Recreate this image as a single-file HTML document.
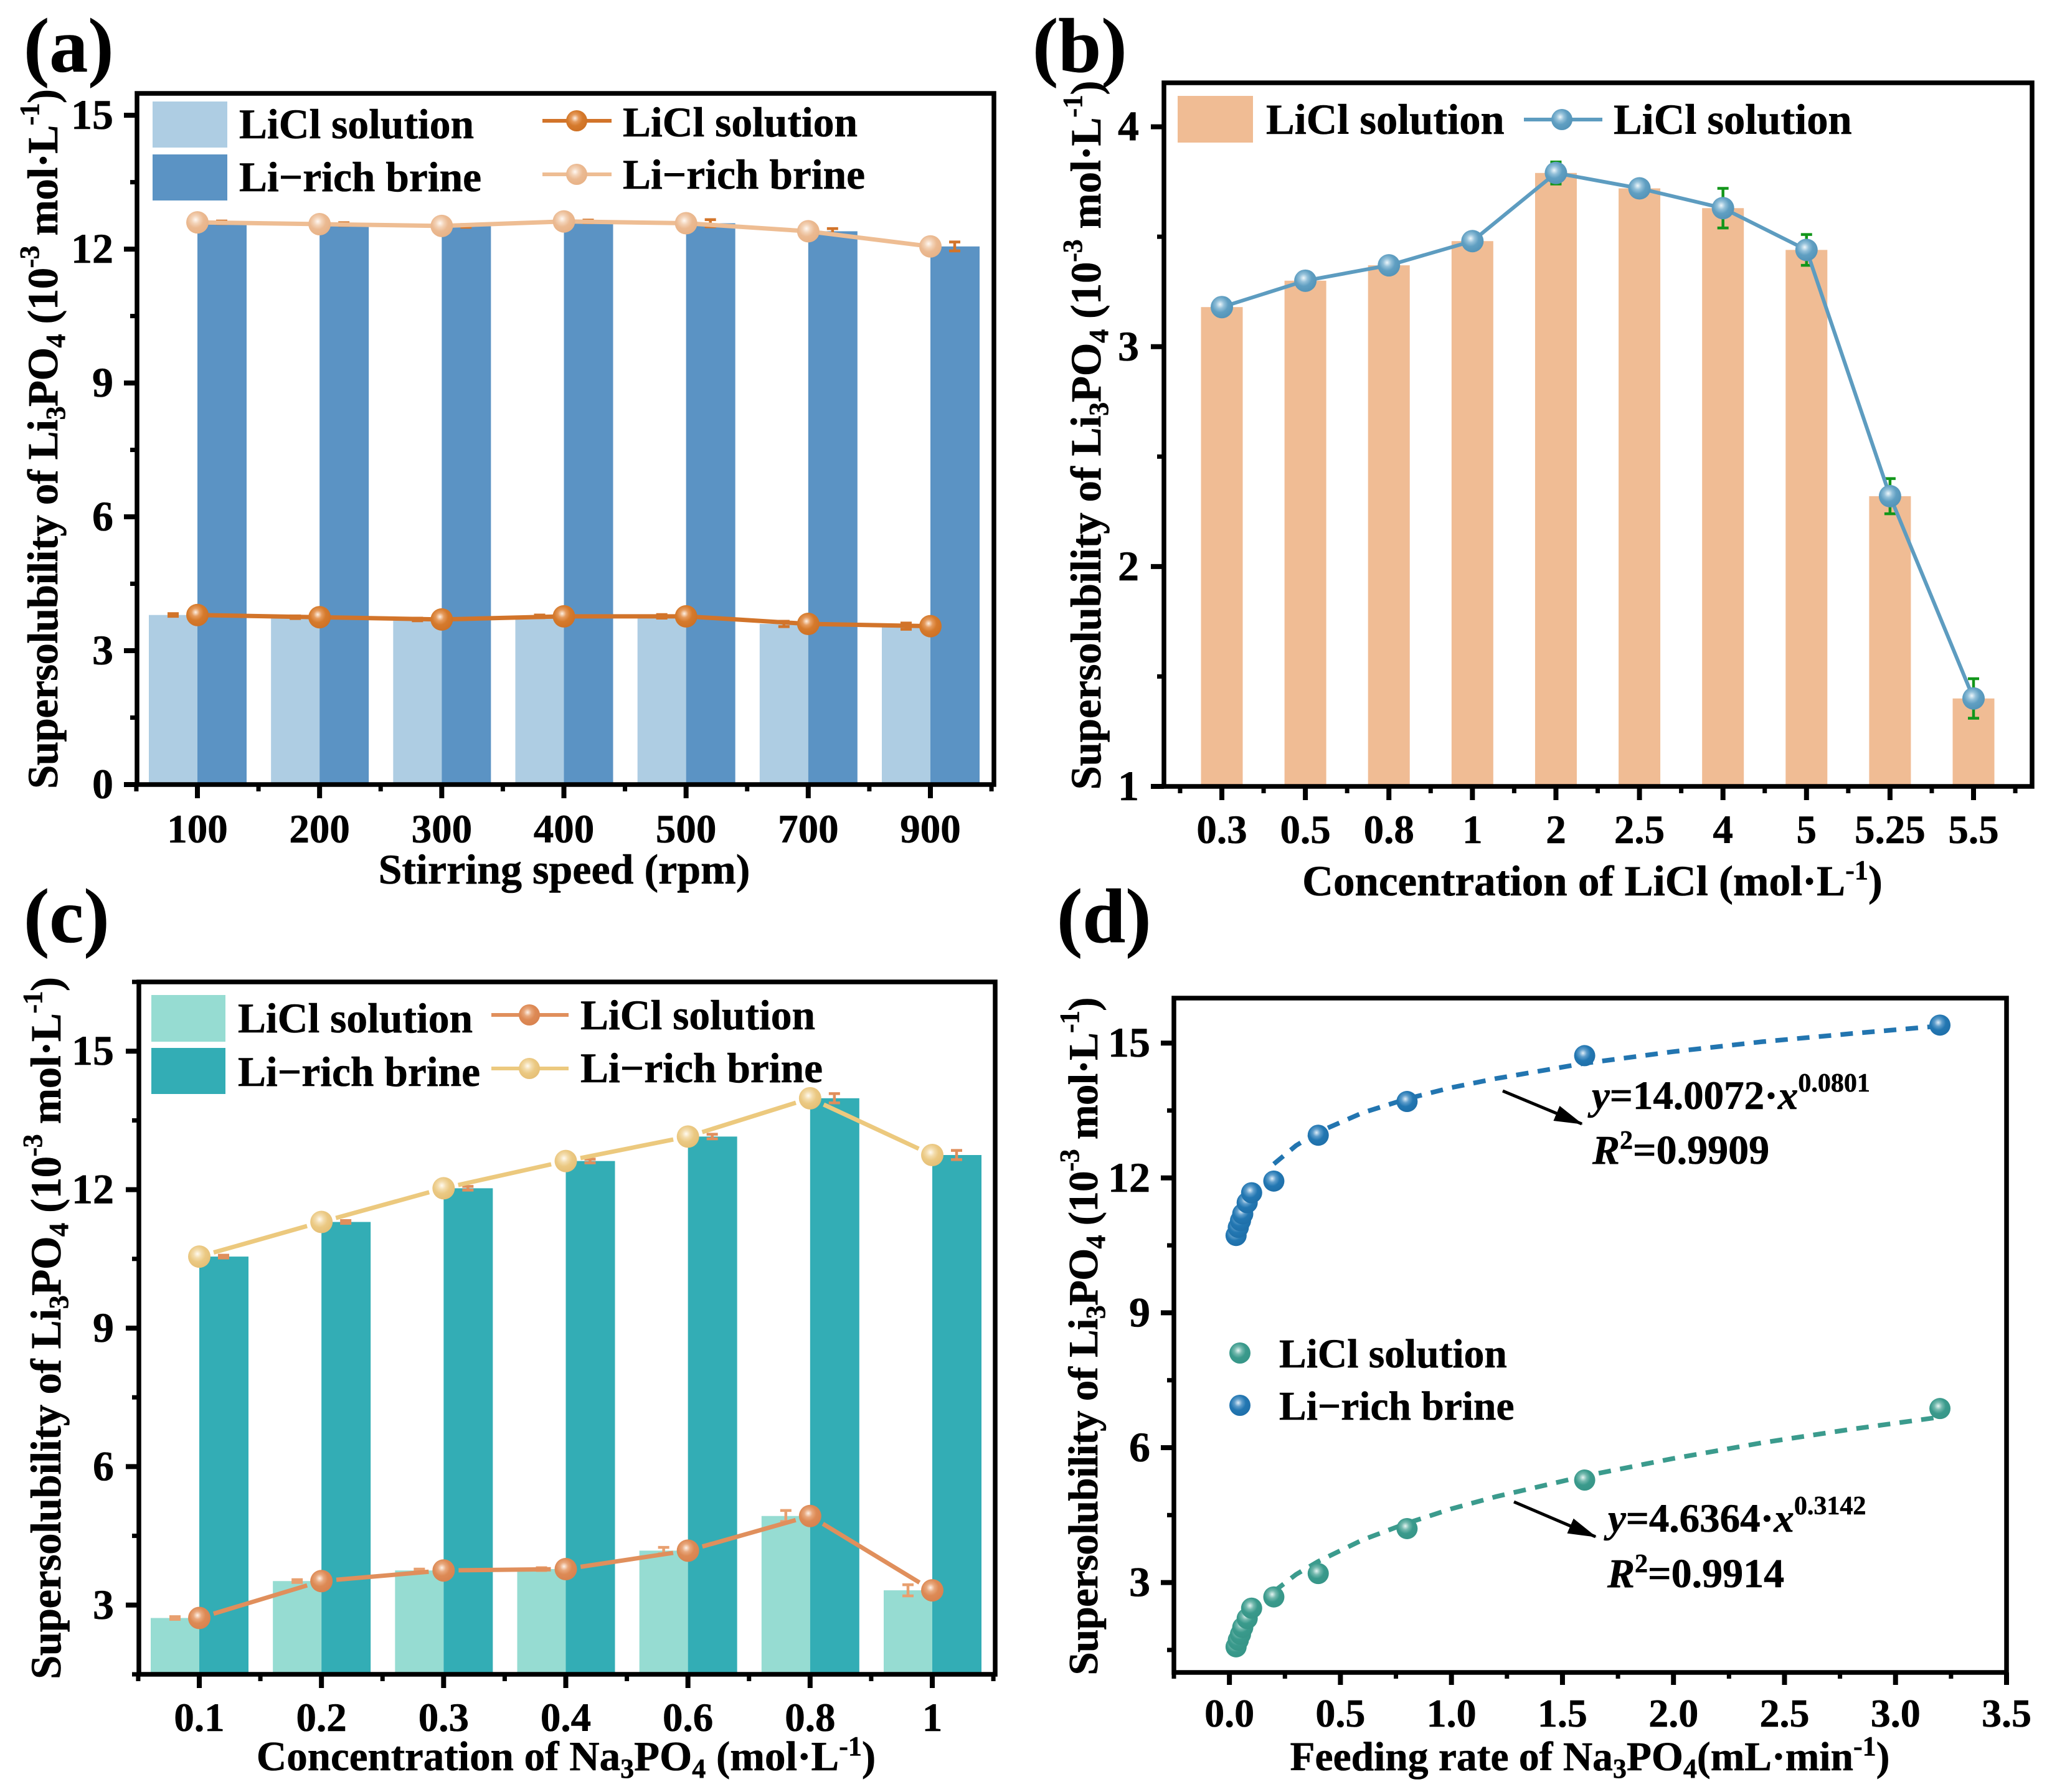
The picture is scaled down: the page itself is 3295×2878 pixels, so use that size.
<!DOCTYPE html>
<html lang="en">
<head>
<meta charset="utf-8">
<title>Supersolubility of Li3PO4</title>
<style>
html,body{margin:0;padding:0;background:#fff;}
svg{display:block;}
text{font-family:"Liberation Serif",serif;font-weight:bold;fill:#000;stroke:#000;stroke-width:.6px;}
</style>
</head>
<body>
<svg id="figure" xmlns="http://www.w3.org/2000/svg" width="3295" height="2878" viewBox="0 0 3295 2878">
<defs>
<radialGradient id="g-orange" cx="42%" cy="38%" r="60%"><stop offset="0" stop-color="#fdf0e4"/><stop offset=".3" stop-color="#e59a5c"/><stop offset=".6" stop-color="#d57a2c"/><stop offset="1" stop-color="#cf7226"/></radialGradient>
<radialGradient id="g-peach" cx="42%" cy="38%" r="60%"><stop offset="0" stop-color="#fff8f2"/><stop offset=".3" stop-color="#f3d3b8"/><stop offset=".6" stop-color="#ebba92"/><stop offset="1" stop-color="#e8b388"/></radialGradient>
<radialGradient id="g-blue" cx="42%" cy="38%" r="60%"><stop offset="0" stop-color="#eef7fb"/><stop offset=".3" stop-color="#93c0d9"/><stop offset=".6" stop-color="#609fc2"/><stop offset="1" stop-color="#5595b9"/></radialGradient>
<radialGradient id="g-salmon" cx="42%" cy="38%" r="60%"><stop offset="0" stop-color="#fdf1e8"/><stop offset=".3" stop-color="#e8a77c"/><stop offset=".6" stop-color="#dd8a55"/><stop offset="1" stop-color="#d98350"/></radialGradient>
<radialGradient id="g-sand" cx="42%" cy="38%" r="60%"><stop offset="0" stop-color="#fffaf0"/><stop offset=".3" stop-color="#f3dcac"/><stop offset=".6" stop-color="#ebc983"/><stop offset="1" stop-color="#e6c077"/></radialGradient>
<radialGradient id="g-teal" cx="42%" cy="38%" r="60%"><stop offset="0" stop-color="#e5f5f2"/><stop offset=".3" stop-color="#74b9ae"/><stop offset=".6" stop-color="#3a9a8c"/><stop offset="1" stop-color="#379688"/></radialGradient>
<radialGradient id="g-deepblue" cx="42%" cy="38%" r="60%"><stop offset="0" stop-color="#e0eef8"/><stop offset=".3" stop-color="#5e9dcb"/><stop offset=".6" stop-color="#2377b2"/><stop offset="1" stop-color="#1f70aa"/></radialGradient>
<marker id="arrowhead" markerUnits="userSpaceOnUse" markerWidth="46" markerHeight="30" refX="44" refY="15" orient="auto"><path d="M0,2 L46,15 L0,28 Z" fill="#000"/></marker>
</defs>

<g id="layer-a"></g>
<g id="layer-b"></g>
<g id="layer-c"></g>
<g id="layer-d"></g>

<!-- panel letters -->
<text x="38" y="115" font-size="124">(a)</text>
<text x="1658" y="115" font-size="124">(b)</text>
<text x="38" y="1513" font-size="124">(c)</text>
<text x="1697" y="1513" font-size="124">(d)</text>

<!-- y axis titles -->
<text transform="translate(92,705) rotate(-90)" text-anchor="middle" font-size="69" textLength="1124">Supersolubility of Li<tspan dy="12" font-size="44">3</tspan><tspan dy="-12">PO</tspan><tspan dy="12" font-size="44">4</tspan><tspan dy="-12"> (10</tspan><tspan dy="-30" font-size="44">-3</tspan><tspan dy="30"> mol·L</tspan><tspan dy="-30" font-size="44">-1</tspan><tspan dy="30">)</tspan></text>
<text transform="translate(1767,699) rotate(-90)" text-anchor="middle" font-size="69" textLength="1139">Supersolubility of Li<tspan dy="12" font-size="44">3</tspan><tspan dy="-12">PO</tspan><tspan dy="12" font-size="44">4</tspan><tspan dy="-12"> (10</tspan><tspan dy="-30" font-size="44">-3</tspan><tspan dy="30"> mol·L</tspan><tspan dy="-30" font-size="44">-1</tspan><tspan dy="30">)</tspan></text>
<text transform="translate(97,2133) rotate(-90)" text-anchor="middle" font-size="69" textLength="1128">Supersolubility of Li<tspan dy="12" font-size="44">3</tspan><tspan dy="-12">PO</tspan><tspan dy="12" font-size="44">4</tspan><tspan dy="-12"> (10</tspan><tspan dy="-30" font-size="44">-3</tspan><tspan dy="30"> mol·L</tspan><tspan dy="-30" font-size="44">-1</tspan><tspan dy="30">)</tspan></text>
<text transform="translate(1762,2146) rotate(-90)" text-anchor="middle" font-size="67" textLength="1089">Supersolubility of Li<tspan dy="12" font-size="44">3</tspan><tspan dy="-12">PO</tspan><tspan dy="12" font-size="44">4</tspan><tspan dy="-12"> (10</tspan><tspan dy="-30" font-size="44">-3</tspan><tspan dy="30"> mol·L</tspan><tspan dy="-30" font-size="44">-1</tspan><tspan dy="30">)</tspan></text>

<!-- x axis titles -->
<text x="906" y="1419" text-anchor="middle" font-size="68">Stirring speed (rpm)</text>
<text x="2557" y="1438" text-anchor="middle" font-size="69">Concentration of LiCl (mol·L<tspan dy="-26" font-size="44">-1</tspan><tspan dy="26">)</tspan></text>
<text x="909" y="2843" text-anchor="middle" font-size="67">Concentration of Na<tspan dy="12" font-size="44">3</tspan><tspan dy="-12">PO</tspan><tspan dy="12" font-size="44">4</tspan><tspan dy="-12"> (mol·L</tspan><tspan dy="-24" font-size="44">-1</tspan><tspan dy="24">)</tspan></text>
<text x="2553" y="2843" text-anchor="middle" font-size="65.5">Feeding rate of Na<tspan dy="12" font-size="44">3</tspan><tspan dy="-12">PO</tspan><tspan dy="12" font-size="44">4</tspan><tspan dy="-12">(mL·min</tspan><tspan dy="-24" font-size="44">-1</tspan><tspan dy="24">)</tspan></text>

<!-- legend a -->
<g>
  <rect x="245" y="163" width="120" height="74" fill="#aecde3"/>
  <rect x="245" y="248" width="120" height="74" fill="#5b93c4"/>
  <text x="384" y="222" font-size="67.5">LiCl solution</text>
  <text x="384" y="307" font-size="67.5">Li−rich brine</text>
  <line x1="871" x2="982" y1="194" y2="194" stroke="#d2742a" stroke-width="6"/>
  <circle cx="926" cy="194" r="17" fill="url(#g-orange)"/>
  <line x1="871" x2="982" y1="280" y2="280" stroke="#eebd93" stroke-width="6"/>
  <circle cx="926" cy="280" r="17" fill="url(#g-peach)"/>
  <text x="1000" y="219" font-size="67.5">LiCl solution</text>
  <text x="1000" y="303" font-size="67.5">Li−rich brine</text>
</g>

<!-- legend b -->
<g>
  <rect x="1891" y="154" width="121" height="75" fill="#f0bc94"/>
  <text x="2033" y="215" font-size="68.5">LiCl solution</text>
  <line x1="2447" x2="2573" y1="192" y2="192" stroke="#5d9cc0" stroke-width="6"/>
  <circle cx="2508" cy="192" r="17" fill="url(#g-blue)"/>
  <text x="2591" y="215" font-size="68.5">LiCl solution</text>
</g>

<!-- legend c -->
<g>
  <rect x="243" y="1598" width="119" height="75" fill="#96dcd2"/>
  <rect x="243" y="1683" width="119" height="74" fill="#33adb5"/>
  <text x="382" y="1658" font-size="67.5">LiCl solution</text>
  <text x="382" y="1744" font-size="67.5">Li−rich brine</text>
  <line x1="789" x2="913" y1="1630" y2="1630" stroke="#e08f5c" stroke-width="6"/>
  <circle cx="850" cy="1630" r="17" fill="url(#g-salmon)"/>
  <line x1="789" x2="913" y1="1716" y2="1716" stroke="#ecc97e" stroke-width="6"/>
  <circle cx="850" cy="1716" r="17" fill="url(#g-sand)"/>
  <text x="932" y="1653" font-size="67.5">LiCl solution</text>
  <text x="932" y="1738" font-size="67.5">Li−rich brine</text>
</g>

<!-- legend d -->
<g>
  <circle cx="1991" cy="2173" r="17" fill="url(#g-teal)"/>
  <circle cx="1991" cy="2257" r="17" fill="url(#g-deepblue)"/>
  <text x="2054" y="2196" font-size="65.5">LiCl solution</text>
  <text x="2054" y="2280" font-size="65.5">Li−rich brine</text>
</g>

<!-- annotations d -->
<g>
  <line x1="2413" y1="1752" x2="2540" y2="1805" stroke="#000" stroke-width="5" marker-end="url(#arrowhead)"/>
  <text x="2556" y="1781" font-size="65"><tspan font-style="italic">y</tspan>=14.0072·<tspan font-style="italic">x</tspan><tspan dy="-28" font-size="42">0.0801</tspan></text>
  <text x="2557" y="1869" font-size="66"><tspan font-style="italic">R</tspan><tspan dy="-24" font-size="42">2</tspan><tspan dy="24">=0.9909</tspan></text>
</g>
<g>
  <line x1="2431" y1="2412" x2="2562" y2="2468" stroke="#000" stroke-width="5" marker-end="url(#arrowhead)"/>
  <text x="2582" y="2460" font-size="65"><tspan font-style="italic">y</tspan>=4.6364·<tspan font-style="italic">x</tspan><tspan dy="-28" font-size="42">0.3142</tspan></text>
  <text x="2581" y="2549" font-size="66"><tspan font-style="italic">R</tspan><tspan dy="-24" font-size="42">2</tspan><tspan dy="24">=0.9914</tspan></text>
</g>
</svg>

<script>
// Panel (a)
var aCategories = ['100','200','300','400','500','700','900'];
var aLiClValues = [3.80,3.75,3.70,3.77,3.77,3.60,3.55];
var aLiClErrors = [0.03,0.03,0.03,0.03,0.04,0.06,0.07];
var aBrineValues = [12.60,12.56,12.52,12.62,12.58,12.40,12.06];
var aBrineErrors = [0.03,0.03,0.03,0.03,0.08,0.06,0.10];
var aYTicks = [0,3,6,9,12,15];

// Panel (b)
var bCategories = ['0.3','0.5','0.8','1','2','2.5','4','5','5.25','5.5'];
var bValues = [3.18,3.30,3.37,3.48,3.79,3.72,3.63,3.44,2.32,1.40];
var bErrors = [0.01,0.01,0.01,0.01,0.05,0.02,0.09,0.07,0.08,0.09];
var bYTicks = [1,2,3,4];

// Panel (c)
var cCategories = ['0.1','0.2','0.3','0.4','0.6','0.8','1'];
var cLiClValues = [2.72,3.52,3.75,3.78,4.18,4.93,3.32];
var cLiClErrors = [0.03,0.03,0.03,0.03,0.07,0.12,0.12];
var cBrineValues = [10.55,11.30,12.03,12.62,13.15,13.98,12.75];
var cBrineErrors = [0.03,0.03,0.04,0.04,0.05,0.10,0.10];
var cYTicks = [3,6,9,12,15];

// Panel (d)
var dFeedRates = [0.03,0.04,0.05,0.06,0.08,0.1,0.2,0.4,0.8,1.6,3.2];
var dLiClValues = [1.57,1.72,1.85,2.0,2.2,2.43,2.68,3.2,4.2,5.28,6.87];
var dBrineValues = [10.72,10.9,11.05,11.2,11.45,11.67,11.93,12.95,13.7,14.72,15.4];
var dFitX = [0.2,0.3,0.4,0.6,0.8,1,1.2,1.6,2,2.4,2.8,3.2];
var dFitLiCl = [2.80,3.18,3.47,3.95,4.32,4.64,4.91,5.37,5.76,6.11,6.41,6.68];
var dFitBrine = [12.31,12.72,13.02,13.45,13.76,14.01,14.21,14.55,14.81,15.03,15.21,15.38];
var dXTicks = [0,0.5,1,1.5,2,2.5,3,3.5];
var dXTickLabels = ['0.0','0.5','1.0','1.5','2.0','2.5','3.0','3.5'];
var dYTicks = [3,6,9,12,15];

var NS = 'http://www.w3.org/2000/svg';
function make(parent, tag, attrs, txt) {
  var e = document.createElementNS(NS, tag);
  for (var k in attrs) e.setAttribute(k, attrs[k]);
  if (txt !== undefined) e.textContent = txt;
  parent.appendChild(e);
  return e;
}
function label(e, name, interactive) {
  
  
  return e;
}
function linearScale(d0, d1, r0, r1) {
  return function (v) { return r0 + (v - d0) / (d1 - d0) * (r1 - r0); };
}
function drawFrame(g, box) {
  var frame = make(g, 'rect', {x: box.l, y: box.t, width: box.r - box.l, height: box.b - box.t, fill: 'none', stroke: '#000', 'stroke-width': 7.5});
  label(frame, 'plot-frame', false);
}
function minorY(g, box, py) {
  var mt = make(g, 'line', {x1: box.l - 11, x2: box.l, y1: py, y2: py, stroke: '#000', 'stroke-width': 7});
  label(mt, 'y-minor-tick', false);
}
function drawYAxis(g, box, y, ticks, labelRight, fontSize) {
  for (var i = 0; i < ticks.length; i++) {
    var py = y(ticks[i]);
    var t = make(g, 'line', {x1: box.l - 21, x2: box.l, y1: py, y2: py, stroke: '#000', 'stroke-width': 8});
    label(t, 'y-tick', false);
    var tx = make(g, 'text', {x: labelRight, y: py + 22, 'text-anchor': 'end', 'font-size': fontSize}, String(ticks[i]));
    label(tx, 'y-tick-label', false);
    if (i < ticks.length - 1) {
      minorY(g, box, y((ticks[i] + ticks[i + 1]) / 2));
    }
  }
  var step = ticks[1] - ticks[0];
  var below = y(ticks[0] - step / 2);
  if (below <= box.b + 1) minorY(g, box, below);
  var above = y(ticks[ticks.length - 1] + step / 2);
  if (above >= box.t - 1) minorY(g, box, above);
}
function drawCategoryX(g, box, x, categories, labelY) {
  for (var i = 0; i < categories.length; i++) {
    var px = x(i);
    var t = make(g, 'line', {x1: px, x2: px, y1: box.b, y2: box.b + 22, stroke: '#000', 'stroke-width': 8});
    label(t, 'x-tick', false);
    var tx = make(g, 'text', {x: px, y: labelY, 'text-anchor': 'middle', 'font-size': 65}, categories[i]);
    label(tx, 'x-tick-label', false);
    var mt = make(g, 'line', {x1: x(i + 0.5), x2: x(i + 0.5), y1: box.b, y2: box.b + 11, stroke: '#000', 'stroke-width': 7});
    label(mt, 'x-minor-tick', false);
  }
  var m0 = make(g, 'line', {x1: x(-0.5), x2: x(-0.5), y1: box.b, y2: box.b + 11, stroke: '#000', 'stroke-width': 7});
  label(m0, 'x-minor-tick', false);
}
function drawBars(g, x, y, base, values, offset, width, color, name) {
  for (var i = 0; i < values.length; i++) {
    var top = y(values[i]);
    var b = make(g, 'rect', {x: x(i) + offset, y: top, width: width, height: base - top, fill: color});
    label(b, name, false);
  }
}
function drawErrors(g, x, y, values, errors, offset, color, name) {
  for (var i = 0; i < values.length; i++) {
    var cx = x(i) + offset;
    var y1 = y(values[i] + errors[i]);
    var y2 = y(values[i] - errors[i]);
    var p = make(g, 'path', {d: 'M' + (cx - 9) + ' ' + y1 + 'H' + (cx + 9) + 'M' + (cx - 9) + ' ' + y2 + 'H' + (cx + 9) + 'M' + cx + ' ' + y1 + 'V' + y2, fill: 'none', stroke: color, 'stroke-width': 4.5});
    label(p, name, false);
  }
}
function drawLine(g, x, y, values, color, fill, name, gap, width) {
  var d = '';
  for (var i = 0; i < values.length - 1; i++) {
    var x1 = x(i), y1 = y(values[i]), x2 = x(i + 1), y2 = y(values[i + 1]);
    var len = Math.sqrt((x2 - x1) * (x2 - x1) + (y2 - y1) * (y2 - y1));
    var ux = (x2 - x1) / len, uy = (y2 - y1) / len;
    d += 'M' + (x1 + ux * gap) + ' ' + (y1 + uy * gap) + 'L' + (x2 - ux * gap) + ' ' + (y2 - uy * gap);
  }
  var l = make(g, 'path', {d: d, fill: 'none', stroke: color, 'stroke-width': width});
  label(l, name + '-line', false);
  for (var j = 0; j < values.length; j++) {
    var c = make(g, 'circle', {cx: x(j), cy: y(values[j]), r: 18, fill: fill});
    label(c, name + '-point', false);
  }
}

// ---- panel a
(function () {
  var g = document.getElementById('layer-a');
  var box = {l: 220, r: 1596, t: 150, b: 1260};
  var x = linearScale(0, 6, 317, 1494);
  var y = linearScale(0, 15.49, box.b, box.t);
  drawBars(g, x, y, box.b, aLiClValues, -78, 78, '#aecde3', 'bar-licl');
  drawBars(g, x, y, box.b, aBrineValues, 0, 79, '#5b93c4', 'bar-brine');
  drawErrors(g, x, y, aLiClValues, aLiClErrors, -39, '#d2742a', 'error-bar-licl');
  drawErrors(g, x, y, aBrineValues, aBrineErrors, 39, '#d2742a', 'error-bar-brine');
  drawLine(g, x, y, aLiClValues, '#d2742a', 'url(#g-orange)', 'series-licl', 0, 7);
  drawLine(g, x, y, aBrineValues, '#eebd93', 'url(#g-peach)', 'series-brine', 0, 7);
  drawFrame(g, box);
  drawYAxis(g, box, y, aYTicks, 182, 68);
  drawCategoryX(g, box, x, aCategories, 1353);
})();

// ---- panel b
(function () {
  var g = document.getElementById('layer-b');
  var box = {l: 1869, r: 3263, t: 133, b: 1263};
  var x = linearScale(0, 9, 1962, 3169);
  var y = linearScale(1, 4.2, box.b, box.t);
  drawBars(g, x, y, box.b, bValues, -33.5, 67, '#f0bc94', 'bar-licl');
  drawErrors(g, x, y, bValues, bErrors, 0, '#12961a', 'error-bar-licl');
  drawLine(g, x, y, bValues, '#5d9cc0', 'url(#g-blue)', 'series-licl', 0, 6);
  drawFrame(g, box);
  drawYAxis(g, box, y, bYTicks, 1829, 68);
  drawCategoryX(g, box, x, bCategories, 1354);
})();

// ---- panel c
(function () {
  var g = document.getElementById('layer-c');
  var box = {l: 223, r: 1598, t: 1577, b: 2689};
  var x = linearScale(0, 6, 320, 1497);
  var y = linearScale(1.5, 16.5, box.b, box.t);
  drawBars(g, x, y, box.b, cLiClValues, -78, 78, '#96dcd2', 'bar-licl');
  drawBars(g, x, y, box.b, cBrineValues, 0, 79, '#33adb5', 'bar-brine');
  drawErrors(g, x, y, cLiClValues, cLiClErrors, -39, '#e8a070', 'error-bar-licl');
  drawErrors(g, x, y, cBrineValues, cBrineErrors, 39, '#e08f5c', 'error-bar-brine');
  drawLine(g, x, y, cLiClValues, '#e08f5c', 'url(#g-salmon)', 'series-licl', 24, 7);
  drawLine(g, x, y, cBrineValues, '#ecc97e', 'url(#g-sand)', 'series-brine', 24, 7);
  drawFrame(g, box);
  drawYAxis(g, box, y, cYTicks, 183, 68);
  drawCategoryX(g, box, x, cCategories, 2780);
})();

// ---- panel d
(function () {
  var g = document.getElementById('layer-d');
  var box = {l: 1885, r: 3222, t: 1603, b: 2686};
  var x = linearScale(-0.25, 3.5, box.l, box.r);
  var y = linearScale(1, 16, box.b, box.t);
  function curve(values, color, name) {
    var pts = [];
    for (var i = 0; i < values.length; i++) pts.push(x(dFitX[i]) + ',' + y(values[i]));
    var l = make(g, 'polyline', {points: pts.join(' '), fill: 'none', stroke: color, 'stroke-width': 7.5, 'stroke-dasharray': '20 15'});
    label(l, name, false);
  }
  function points(values, fill, name) {
    for (var i = 0; i < values.length; i++) {
      var c = make(g, 'circle', {cx: x(dFeedRates[i]), cy: y(values[i]), r: 17, fill: fill});
      label(c, name, false);
    }
  }
  curve(dFitLiCl, '#3b9b8d', 'fit-curve-licl');
  curve(dFitBrine, '#2275b0', 'fit-curve-brine');
  points(dLiClValues, 'url(#g-teal)', 'point-licl');
  points(dBrineValues, 'url(#g-deepblue)', 'point-brine');
  drawFrame(g, box);
  drawYAxis(g, box, y, dYTicks, 1847, 68);
  for (var i = 0; i < dXTicks.length; i++) {
    var px = x(dXTicks[i]);
    var t = make(g, 'line', {x1: px, x2: px, y1: box.b, y2: box.b + 20, stroke: '#000', 'stroke-width': 8});
    label(t, 'x-tick', false);
    var tx = make(g, 'text', {x: px, y: 2773, 'text-anchor': 'middle', 'font-size': 64}, dXTickLabels[i]);
    label(tx, 'x-tick-label', false);
    var mx = x(dXTicks[i] - 0.25);
    var mt = make(g, 'line', {x1: mx, x2: mx, y1: box.b, y2: box.b + 10, stroke: '#000', 'stroke-width': 7});
    label(mt, 'x-minor-tick', false);
  }
})();
</script>
</body>
</html>
